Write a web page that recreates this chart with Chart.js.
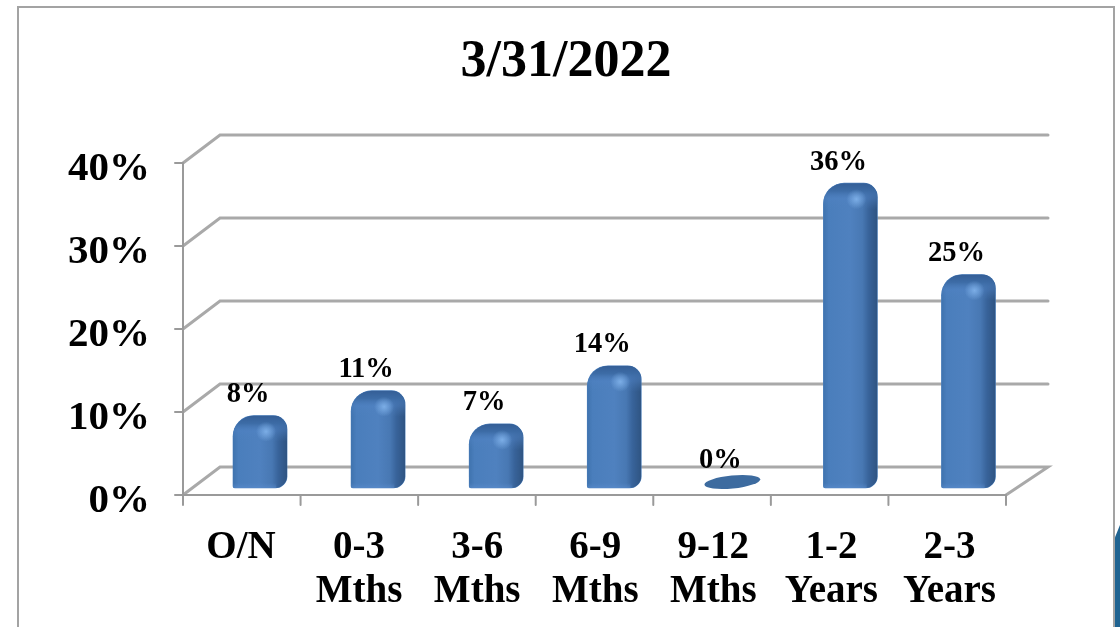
<!DOCTYPE html>
<html>
<head>
<meta charset="utf-8">
<title>3/31/2022</title>
<script src="https://cdn.jsdelivr.net/npm/chart.js@4"></script>
<style>
  html, body { margin: 0; height: 100%; background: #fff; overflow: hidden; }
  #frame {
    position: absolute; left: 17px; top: 6px; width: 1094px; height: 640px;
    border: 2px solid #a3a3a3;
  }
  #holder { position: absolute; left: 0; top: 0; width: 1094px; height: 619px; }
  #corner {
    position: absolute; left: 1115px; top: 525px; width: 5px; height: 102px;
    background: #1f6391; clip-path: polygon(100% 0, 0 12%, 0 100%, 100% 100%);
  }
</style>
</head>
<body>
<div id="frame"><div id="holder"><canvas id="chart"></canvas></div></div>
<div id="corner"></div>
<script>
const titleText = '3/31/2022';
const categories = [['O/N'], ['0-3', 'Mths'], ['3-6', 'Mths'], ['6-9', 'Mths'], ['9-12', 'Mths'], ['1-2', 'Years'], ['2-3', 'Years']];
const shares = [8, 11, 7, 14, 0, 36, 25];
const axisTicks = [0, 10, 20, 30, 40];

const SERIF = "'Liberation Serif', 'Times New Roman', serif";
const GRID = '#a9a9a9';
const AXIS = '#9a9a9a';

// Fake 3D box: everything is offset from the bar plane by these amounts
const depth = { frontY: 13, backY: -15, frontL: -18, frontR: -21.5, backL: 19, backR: 20.5 };
const barCorners = [21, 14, 12, 2]; // tl, tr, br, bl

const wallAndFloor = {
  id: 'wallAndFloor',
  beforeDatasetsDraw(chart) {
    const { ctx, chartArea: a, scales: { y } } = chart;
    const fl = a.left + depth.frontL, fr = a.right + depth.frontR;
    const bl = a.left + depth.backL, br = a.right + depth.backR;
    ctx.save();
    ctx.lineCap = 'round';
    // back wall lines and the slanted side wall lines
    ctx.strokeStyle = GRID;
    ctx.lineWidth = 3;
    axisTicks.forEach(v => {
      const p = y.getPixelForValue(v);
      ctx.beginPath();
      ctx.moveTo(fl, p + depth.frontY);
      ctx.lineTo(bl, p + depth.backY);
      ctx.lineTo(br, p + depth.backY);
      if (v === 0) ctx.lineTo(fr, p + depth.frontY);
      ctx.stroke();
    });
    // front axis lines
    ctx.strokeStyle = AXIS;
    ctx.lineWidth = 2;
    const p0 = y.getPixelForValue(0) + depth.frontY;
    const pTop = y.getPixelForValue(40) + depth.frontY;
    ctx.beginPath();
    ctx.moveTo(fl, pTop);
    ctx.lineTo(fl, p0);
    ctx.lineTo(fr, p0);
    axisTicks.forEach(v => {
      const p = y.getPixelForValue(v) + depth.frontY;
      ctx.moveTo(fl - 8, p);
      ctx.lineTo(fl, p);
    });
    for (let i = 0; i <= categories.length; i++) {
      const x = fl + (fr - fl) * i / categories.length;
      ctx.moveTo(x, p0);
      ctx.lineTo(x, p0 + 10);
    }
    ctx.stroke();
    ctx.restore();
  }
};

// Shaded cylinder look on top of the plain bars, plus the value labels
const barShading = {
  id: 'barShading',
  afterDatasetsDraw(chart) {
    const { ctx } = chart;
    const bars = chart.getDatasetMeta(0).data;
    ctx.save();
    bars.forEach((bar, i) => {
      const { x, y, base, width } = bar.getProps(['x', 'y', 'base', 'width'], true);
      const l = x - width / 2, h = base - y;

      if (shares[i] === 0) {
        ctx.fillStyle = '#3d6b9f';
        ctx.beginPath();
        ctx.ellipse(x, y, 28, 6.5, -0.1, 0, Math.PI * 2);
        ctx.fill();
      } else {
        ctx.save();
        ctx.beginPath();
        ctx.roundRect(l, y, width, h, barCorners);
        ctx.clip();

        const face = ctx.createLinearGradient(l, 0, l + width, 0);
        face.addColorStop(0, '#3f73ae');
        face.addColorStop(0.1, '#4a7ebc');
        face.addColorStop(0.5, '#4f81bf');
        face.addColorStop(0.72, '#4878b3');
        face.addColorStop(0.84, '#38639a');
        face.addColorStop(1, '#2f5482');
        ctx.fillStyle = face;
        ctx.fillRect(l, y, width, h);

        const cap = ctx.createLinearGradient(0, y, 0, y + 26);
        cap.addColorStop(0, 'rgba(52,94,150,1)');
        cap.addColorStop(0.3, 'rgba(60,107,165,.95)');
        cap.addColorStop(0.6, 'rgba(80,130,195,.45)');
        cap.addColorStop(1, 'rgba(79,129,189,0)');
        ctx.fillStyle = cap;
        ctx.fillRect(l, y, width, 26);

        const glint = ctx.createRadialGradient(x + 6, y + 16, 0, x + 6, y + 16, 10);
        glint.addColorStop(0, 'rgba(135,185,240,.8)');
        glint.addColorStop(1, 'rgba(135,185,240,0)');
        ctx.fillStyle = glint;
        ctx.fillRect(l, y, width, 32);

        const foot = ctx.createLinearGradient(0, base - 5, 0, base);
        foot.addColorStop(0, 'rgba(90,140,205,0)');
        foot.addColorStop(1, 'rgba(90,140,205,.6)');
        ctx.fillStyle = foot;
        ctx.fillRect(l, base - 5, width * 0.8, 5);
        ctx.restore();
      }

      ctx.fillStyle = '#000';
      ctx.font = 'bold 28.5px ' + SERIF;
      ctx.textAlign = 'center';
      ctx.textBaseline = 'middle';
      ctx.fillText(shares[i] + '%', x - 12, y - 21);
    });
    ctx.restore();
  }
};

new Chart(document.getElementById('chart'), {
  type: 'bar',
  data: {
    labels: categories,
    datasets: [{
      data: shares,
      base: -0.72,
      clip: false,
      barThickness: 54,
      backgroundColor: ctx => ctx.raw === 0 ? 'transparent' : '#4a7ebb',
      borderWidth: 0,
      borderSkipped: false,
      borderRadius: { topLeft: barCorners[0], topRight: barCorners[1], bottomRight: barCorners[2], bottomLeft: barCorners[3] }
    }]
  },
  plugins: [wallAndFloor, barShading],
  options: {
    responsive: true,
    maintainAspectRatio: false,
    animation: false,
    plugins: {
      legend: { display: false },
      tooltip: { enabled: false },
      title: {
        display: true,
        text: titleText,
        color: '#000',
        font: { family: SERIF, size: 52, weight: 'bold', lineHeight: 1.1 },
        padding: { top: 26, bottom: 58.8 }
      }
    },
    scales: {
      x: {
        grid: { display: false },
        border: { display: false },
        afterFit: s => { s.height = 145; },
        ticks: {
          color: '#000',
          font: { family: SERIF, size: 39, weight: 'bold', lineHeight: 1.13 },
          autoSkip: false,
          maxRotation: 0,
          labelOffset: -19,
          padding: 36
        }
      },
      y: {
        min: 0,
        max: 40,
        grid: { display: false, drawTicks: false },
        border: { display: false },
        afterBuildTicks: s => { s.ticks = axisTicks.map(value => ({ value })); },
        afterFit: s => { s.width = 182; },
        ticks: {
          color: '#000',
          font: { family: SERIF, size: 41, weight: 'bold' },
          padding: 51,
          labelOffset: 19.5,
          callback: v => v + '%'
        }
      },
      // empty axis that reserves the right margin and leaves the title centred
      spacer: {
        position: 'right',
        grid: { display: false },
        border: { display: false },
        ticks: { display: false },
        afterFit: s => { s.width = 85.5; }
      }
    }
  }
});
</script>
</body>
</html>
